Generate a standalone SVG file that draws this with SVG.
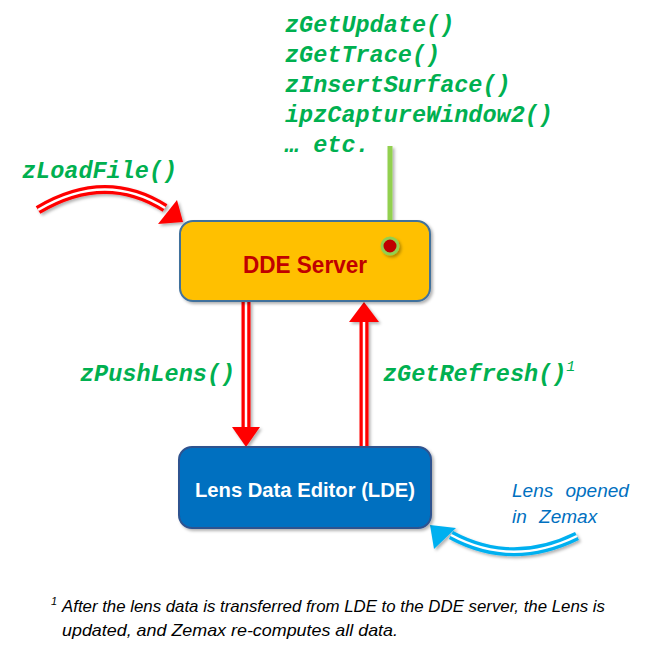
<svg xmlns="http://www.w3.org/2000/svg" width="650" height="650" viewBox="0 0 650 650">
<defs>
<style>
.code{font-family:"Liberation Mono","Courier New",monospace;font-weight:bold;font-style:italic;fill:#00B050;font-size:23.5px}
.box{font-family:"Liberation Sans",Arial,sans-serif;font-weight:bold;text-anchor:middle}
.red-out{fill:none;stroke:#FF0000;stroke-width:9}
.red-in{fill:none;stroke:#FFFFFF;stroke-width:2.5}
.blue-out{fill:none;stroke:#00B0F0;stroke-width:9}
.blue-in{fill:none;stroke:#FFFFFF;stroke-width:2.5}
.note{font-family:"Liberation Sans",Arial,sans-serif;font-style:italic;fill:#000}
</style>
<filter id="sh" filterUnits="userSpaceOnUse" x="0" y="0" width="650" height="650">
<feDropShadow dx="2" dy="2" stdDeviation="1.5" flood-color="#000" flood-opacity="0.3"/>
</filter>
</defs>

<g id="labels">
<text class="code" x="285" y="32">zGetUpdate()</text>
<text class="code" x="285" y="62">zGetTrace()</text>
<text class="code" x="285" y="92">zInsertSurface()</text>
<text class="code" x="285" y="122">ipzCaptureWindow2()</text>
<text class="code" x="285" y="152">… etc.</text>
<text class="code" x="22" y="178">zLoadFile()</text>
<text class="code" x="80" y="381">zPushLens()</text>
<text class="code" x="383" y="381">zGetRefresh()<tspan font-size="15" dy="-10" font-weight="normal">1</tspan></text>
</g>

<g id="connectors">
<g filter="url(#sh)">
<path class="red-out" d="M38,210 Q105,170 165,208"/>
<path class="red-in" d="M38,210 Q105,170 165,208"/>
<polygon points="183,222 158,224 177,200" fill="#FF0000"/>
</g>
<g filter="url(#sh)">
<line class="red-out" x1="246" y1="302" x2="246" y2="428"/>
<line class="red-in" x1="246" y1="302" x2="246" y2="428"/>
<polygon points="232,427 260,427 246,447" fill="#FF0000"/>
</g>
<g filter="url(#sh)">
<line class="red-out" x1="364" y1="321" x2="364" y2="447"/>
<line class="red-in" x1="364" y1="321" x2="364" y2="447"/>
<polygon points="349,322 379,322 364,302" fill="#FF0000"/>
</g>
<g filter="url(#sh)">
<path class="blue-out" d="M577,536 Q512,568 451,535"/>
<path class="blue-in" d="M577,536 Q512,568 451,535"/>
<polygon points="430,525 456,528 434,549" fill="#00B0F0"/>
</g>
<g filter="url(#sh)">
<line x1="390" y1="146" x2="390" y2="240" stroke="#92D050" stroke-width="5"/>
</g>
</g>

<g id="dde-server">
<rect x="180" y="221" width="250" height="80" rx="13" fill="#FFC000" stroke="#41719C" stroke-width="2" filter="url(#sh)"/>
<circle cx="390" cy="246" r="8" fill="#C00000" stroke="#92D050" stroke-width="3" filter="url(#sh)"/>
<text class="box" x="305" y="273" font-size="24" fill="#C00000" textLength="124" lengthAdjust="spacingAndGlyphs">DDE Server</text>
</g>

<g id="lde">
<rect x="179" y="447" width="252" height="81" rx="13" fill="#0070C0" stroke="#2F528F" stroke-width="2" filter="url(#sh)"/>
<text class="box" x="305" y="497" font-size="21" fill="#FFFFFF" textLength="220" lengthAdjust="spacingAndGlyphs">Lens Data Editor (LDE)</text>
</g>

<g id="lens-opened">
<text font-family="Liberation Sans,Arial,sans-serif" font-style="italic" font-size="19" fill="#0070C0" word-spacing="7">
<tspan x="512" y="497">Lens opened</tspan>
<tspan x="512" y="523">in Zemax</tspan>
</text>
</g>

<g id="footnote">
<text class="note" x="51" y="605" style="font-size:11px">1</text>
<text class="note" x="62" y="612" style="font-size:17px" textLength="543" lengthAdjust="spacingAndGlyphs">After the lens data is transferred from LDE to the DDE server, the Lens is</text>
<text class="note" x="62" y="636" style="font-size:17px" textLength="336" lengthAdjust="spacingAndGlyphs">updated, and Zemax re-computes all data.</text>
</g>
</svg>
